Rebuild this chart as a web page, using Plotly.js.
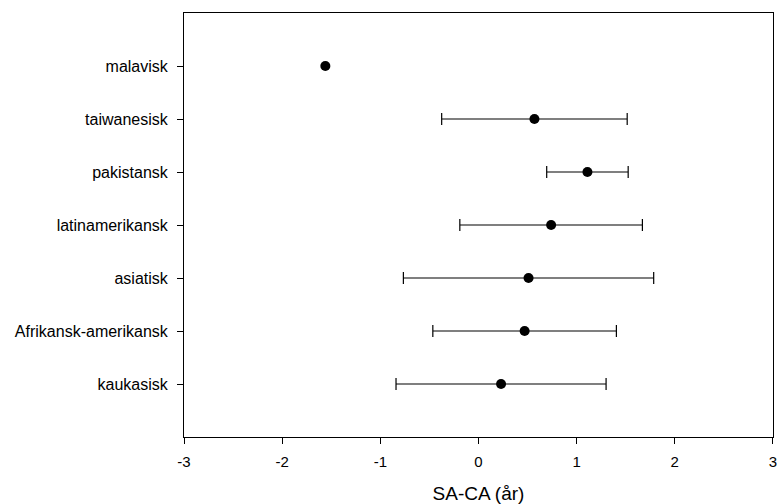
<!DOCTYPE html>
<html>
<head>
<meta charset="utf-8">
<script src="https://cdn.plot.ly/plotly-3.0.1.min.js"></script>
<style>html,body{margin:0;padding:0;background:#fff;}#chart{width:777px;height:504px;}</style>
</head>
<body>
<div id="chart"></div>
<script>
const categories = ["kaukasisk", "Afrikansk-amerikansk", "asiatisk", "latinamerikansk", "pakistansk", "taiwanesisk", "malavisk"];
const means = [0.23, 0.47, 0.51, 0.74, 1.11, 0.57, -1.56];
const errors = [1.07, 0.935, 1.275, 0.93, 0.415, 0.945, null];
const xTicks = [-3, -2, -1, 0, 1, 2, 3];

const positions = categories.map((c, i) => i);

const withErr = positions.filter(i => errors[i] !== null);
const noErr = positions.filter(i => errors[i] === null);

const traceErr = {
  type: 'scatter',
  mode: 'markers',
  x: withErr.map(i => means[i]),
  y: withErr,
  marker: {color: '#000', size: 10},
  error_x: {type: 'data', array: withErr.map(i => errors[i]), visible: true, color: '#000', thickness: 1.2, width: 6},
  text: withErr.map(i => categories[i]),
  showlegend: false
};
const traceNoErr = {
  type: 'scatter',
  mode: 'markers',
  x: noErr.map(i => means[i]),
  y: noErr,
  marker: {color: '#000', size: 10},
  text: noErr.map(i => categories[i]),
  showlegend: false
};

const layout = {
  width: 777, height: 504,
  margin: {l: 184, r: 4, t: 13, b: 67},
  paper_bgcolor: '#fff', plot_bgcolor: '#fff',
  font: {family: 'Liberation Sans, Arial, sans-serif', size: 16, color: '#000'},
  xaxis: {
    range: [-3, 3.0005],
    tickvals: xTicks,
    ticktext: xTicks.map(String),
    ticks: 'outside', ticklen: 6, tickwidth: 1, tickcolor: '#000',
    showline: true, linecolor: '#000', linewidth: 1, mirror: true,
    showgrid: false, zeroline: false,
    tickfont: {size: 15},
    ticklabeloverflow: 'allow',
    ticklabelstandoff: 5,
    title: {text: 'SA-CA (år)', font: {size: 19}, standoff: 18}
  },
  yaxis: {
    range: [-1, 7],
    tickvals: positions,
    ticktext: categories,
    ticks: 'outside', ticklen: 6, tickwidth: 1, tickcolor: '#000',
    showline: true, linecolor: '#000', linewidth: 1, mirror: true,
    showgrid: false, zeroline: false,
    tickfont: {size: 16},
    ticklabelstandoff: 6
  }
};

Plotly.newPlot('chart', [traceErr, traceNoErr], layout, {displayModeBar: false, staticPlot: true});
</script>
</body>
</html>
